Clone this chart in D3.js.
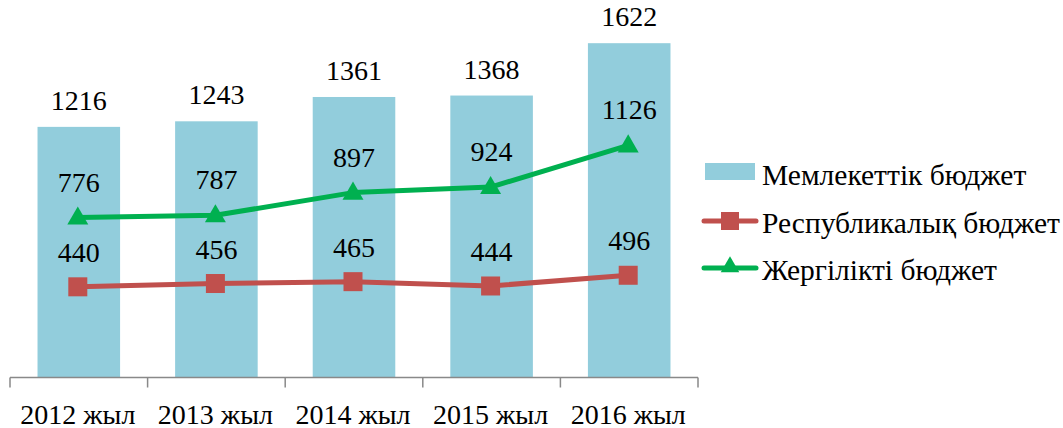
<!DOCTYPE html>
<html>
<head>
<meta charset="utf-8">
<script src="https://cdn.jsdelivr.net/npm/d3@7"></script>
<style>
  html, body { margin: 0; padding: 0; background: #fff; }
  svg { display: block; }
</style>
</head>
<body>
<svg id="chart" width="1063" height="428"></svg>
<script>
// Budget data by year
const years = ["2012 жыл", "2013 жыл", "2014 жыл", "2015 жыл", "2016 жыл"];
const stateBudget = [1216, 1243, 1361, 1368, 1622];
const republicanBudget = [440, 456, 465, 444, 496];
const localBudget = [776, 787, 897, 924, 1126];
const seriesNames = ["Мемлекеттік бюджет", "Республикалық бюджет", "Жергілікті  бюджет"];

const barColor = "#92CDDC";
const redColor = "#C0504D";
const greenColor = "#00B050";
const axisColor = "#898989";
const serif = "'Liberation Serif'";

const svg = d3.select("#chart");
const plot = { left: 10, right: 698, top: 6.5, bottom: 377.5 };
const fontSize = 28;
const legendFontSize = 29.5;

const x = d3.scaleBand().domain(years).range([plot.left, plot.right]).paddingInner(0.4).paddingOuter(0.2);
const y = d3.scaleLinear().domain([0, 1800]).range([plot.bottom, plot.top]);
const cx = d => x(d) + x.bandwidth() / 2 - 1;

// Bars
svg.append("g").selectAll("rect").data(years).join("rect")
  .attr("x", d => x(d))
  .attr("width", x.bandwidth())
  .attr("y", (d, i) => y(stateBudget[i]))
  .attr("height", (d, i) => y(0) - y(stateBudget[i]))
  .attr("fill", barColor);

// Category axis with ticks between bands
const xAxisG = svg.append("g").attr("transform", `translate(0,${plot.bottom})`);
xAxisG.append("line").attr("x1", plot.left).attr("x2", plot.right)
  .attr("y1", 0).attr("y2", 0).attr("stroke", axisColor).attr("stroke-width", 1.5);
const tickXs = years.map(d => x(d) - x.step() * x.paddingInner() / 2);
tickXs[0] = plot.left;
tickXs.push(plot.right);
xAxisG.selectAll("line.tick").data(tickXs).join("line").attr("class", "tick")
  .attr("x1", d => d).attr("x2", d => d).attr("y1", 0).attr("y2", 10)
  .attr("stroke", axisColor).attr("stroke-width", 1.5);
xAxisG.selectAll("text").data(years).join("text")
  .attr("x", d => x(d) + x.bandwidth() / 2 - 1)
  .attr("y", 46)
  .attr("text-anchor", "middle")
  .attr("font-family", serif)
  .attr("font-size", fontSize)
  .text(d => d);

// Lines
const line = d3.line().x((d, i) => cx(years[i])).y(d => y(d));
svg.append("path").datum(republicanBudget).attr("d", line)
  .attr("fill", "none").attr("stroke", redColor).attr("stroke-width", 5).attr("stroke-linejoin", "round");
svg.append("path").datum(localBudget).attr("d", line)
  .attr("fill", "none").attr("stroke", greenColor).attr("stroke-width", 5).attr("stroke-linejoin", "round");

// Markers
const sq = 19;
svg.append("g").selectAll("rect").data(republicanBudget).join("rect")
  .attr("x", (d, i) => cx(years[i]) - sq / 2)
  .attr("y", d => y(d) - sq / 2)
  .attr("width", sq).attr("height", sq)
  .attr("fill", redColor);
const tri = d3.symbol().type(d3.symbolTriangle).size(190);
svg.append("g").selectAll("path").data(localBudget).join("path")
  .attr("d", tri)
  .attr("transform", (d, i) => `translate(${cx(years[i])},${y(d) + 1})`)
  .attr("fill", greenColor);

// Value labels
function labels(values, dy) {
  svg.append("g").selectAll("text").data(values).join("text")
    .attr("x", (d, i) => cx(years[i]) + 1)
    .attr("y", d => y(d) - dy)
    .attr("text-anchor", "middle")
    .attr("font-family", serif)
    .attr("font-size", fontSize)
    .text(d => d);
}
labels(stateBudget, 17);
labels(localBudget, 26);
labels(republicanBudget, 25);

// Legend
const legend = svg.append("g").attr("font-family", serif).attr("font-size", legendFontSize);
legend.append("rect").attr("x", 705).attr("y", 163).attr("width", 50).attr("height", 17).attr("fill", barColor);
legend.append("text").attr("x", 762).attr("y", 185).text(seriesNames[0]);

legend.append("line").attr("x1", 704).attr("x2", 756).attr("y1", 221).attr("y2", 221)
  .attr("stroke", redColor).attr("stroke-width", 5).attr("stroke-linecap", "round");
legend.append("rect").attr("x", 721).attr("y", 212).attr("width", 18).attr("height", 18).attr("fill", redColor);
legend.append("text").attr("x", 762).attr("y", 233).text(seriesNames[1]);

legend.append("line").attr("x1", 704).attr("x2", 756).attr("y1", 268).attr("y2", 268)
  .attr("stroke", greenColor).attr("stroke-width", 5).attr("stroke-linecap", "round");
legend.append("path").attr("d", d3.symbol().type(d3.symbolTriangle).size(150))
  .attr("transform", "translate(730,267)").attr("fill", greenColor);
legend.append("text").attr("x", 762).attr("y", 280).text(seriesNames[2]);
</script>
</body>
</html>
